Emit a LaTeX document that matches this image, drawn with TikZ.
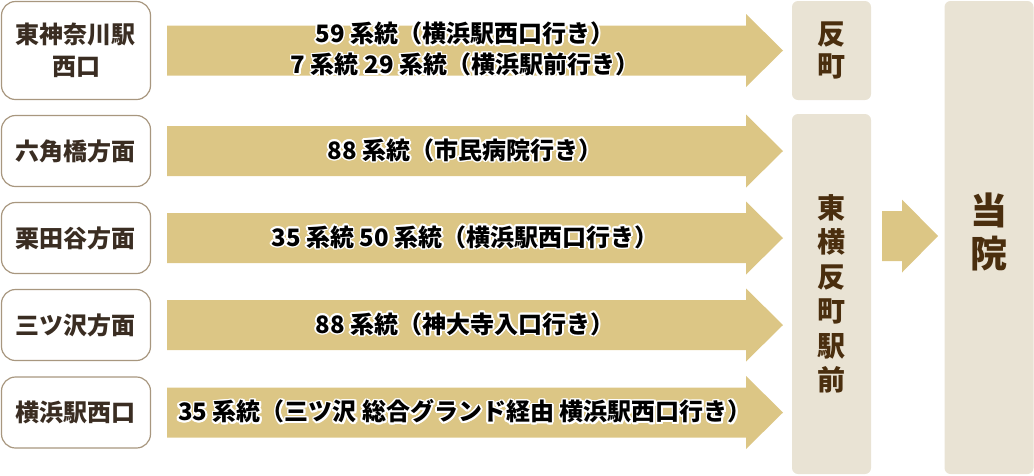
\documentclass[tikz,border=0pt]{standalone}
\usepackage{fontspec}
\setmainfont{Noto Sans CJK JP}
\usepackage{contour}
\contourlength{1.7pt}
\definecolor{arrowfill}{HTML}{DCC685}
\definecolor{haltfill}{HTML}{E9E3D4}
\definecolor{boxline}{HTML}{A8977F}
\definecolor{labeltext}{HTML}{3A2D22}
\definecolor{halttext}{HTML}{4A2E0E}

\begin{document}
\begin{tikzpicture}[x=1pt,y=-1pt]
\tikzstyle{stop}=[draw=boxline, line width=1.2pt, rounded corners=14pt, fill=white, minimum width=149pt, minimum height=71pt, inner sep=0pt, text=labeltext, font=\fontsize{24}{32}\selectfont\bfseries, align=center]
\tikzstyle{route}=[inner sep=0pt, font=\fontsize{24}{31}\selectfont\bfseries, align=center]
\tikzstyle{halt}=[fill=haltfill, rounded corners=6pt, inner sep=0pt, text=halttext, align=center, font=\bfseries]

\useasboundingbox (0,0) rectangle (1034,475);

% departure stops
\node[stop, minimum height=98pt] (hgs) at (76,50.5) {東神奈川駅\\西口};
\node[stop] (rkb) at (76,151) {六角橋方面};
\node[stop] (kty) at (76,238) {栗田谷方面};
\node[stop] (mts) at (76,325) {三ツ沢方面};
\node[stop] (ykn) at (76,412.5) {横浜駅西口};

% bus arrows
\foreach \y in {50.5,151,238,325,412.5} {
\fill[arrowfill] (167,\y-25) -- (746,\y-25) -- (746,\y-36.5) -- (783,\y) -- (746,\y+36.5) -- (746,\y+25) -- (167,\y+25) -- cycle;
}
\node[route] (r1) at (465,50) {\contour{white}{59 系統（横浜駅西口行き）}\\\contour{white}{7 系統 29 系統（横浜駅前行き）}};
\node[route] (r2) at (465,151) {\contour{white}{88 系統（市民病院行き）}};
\node[route] (r3) at (465,238) {\contour{white}{35 系統 50 系統（横浜駅西口行き）}};
\node[route] (r4) at (465,325) {\contour{white}{88 系統（神大寺入口行き）}};
\node[route] (r5) at (465,412.5) {\contour{white}{35 系統（三ツ沢 総合グランド経由 横浜駅西口行き）}};

% arrival stops and hospital
\node[halt, minimum width=79pt, minimum height=99pt, font=\fontsize{28}{32}\selectfont\bfseries] (tmc) at (831.5,50.5) {反\\町};
\node[halt, minimum width=79pt, minimum height=360pt, font=\fontsize{28}{34.5}\selectfont\bfseries] (tyt) at (831.5,294) {東\\横\\反\\町\\駅\\前};
\fill[arrowfill] (882,211) -- (902,211) -- (902,199.5) -- (938,236) -- (902,272.5) -- (902,261) -- (882,261) -- cycle;
\node[halt, minimum width=89pt, minimum height=473pt] (hsp) at (989,237.5) {};
\node[text=halttext, font=\fontsize{37}{43}\selectfont\bfseries, align=center] (hspname) at (989,232) {当\\院};

\end{tikzpicture}
\end{document}
